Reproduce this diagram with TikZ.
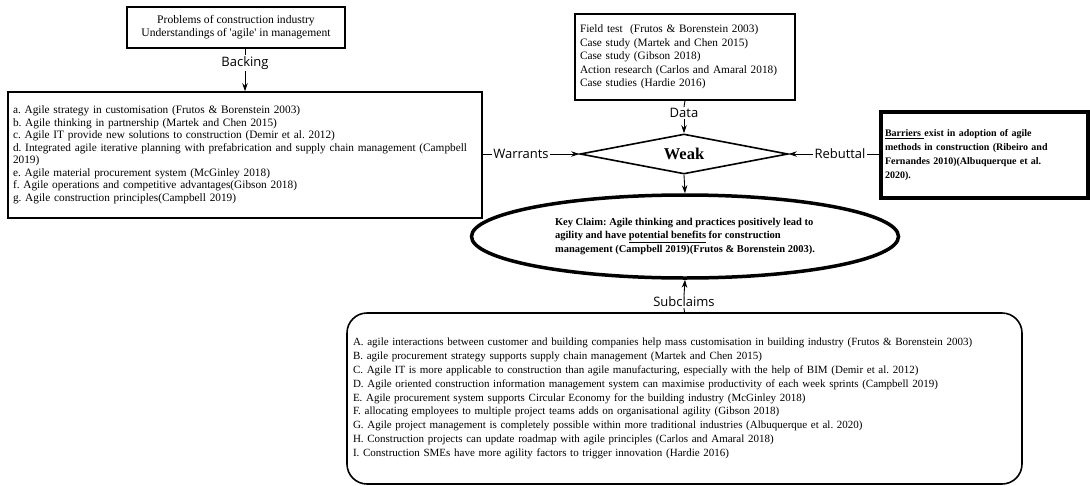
\documentclass[tikz,border=0pt]{standalone}
\usepackage{fontspec}
\setmainfont{Liberation Serif}
\newfontfamily\labelfont{Open Sans}
\usetikzlibrary{shapes.geometric,arrows.meta}
\frenchspacing

\begin{document}
\begin{tikzpicture}[x=1pt,y=-1pt,
    textbox/.style={rectangle,draw,line width=1.6pt,inner sep=5pt,align=left,font=\fontsize{11.3}{12.5}\selectfont},
    lbl/.style={inner sep=1pt,font=\labelfont\fontsize{13}{15}\selectfont},
    arr/.style={-{Stealth[length=8pt,width=5.5pt]},line width=0.9pt},
    tick/.style={line width=0.9pt}]
    \useasboundingbox (0,0) rectangle (1090,485);
%
    \node (problems) at (236,27.5) [textbox,align=center,minimum width=218,minimum height=41,font=\fontsize{11.6}{13}\selectfont] {Problems of construction industry\\Understandings of \textquotesingle agile\textquotesingle\ in management};
    \node (backs) at (245,155) [textbox,minimum width=474,minimum height=126,text width=464] {a. Agile strategy in customisation (Frutos \& Borenstein 2003)\\b. Agile thinking in partnership (Martek and Chen 2015)\\c. Agile IT provide new solutions to construction (Demir et al. 2012)\\d. Integrated agile iterative planning with prefabrication and supply chain management (Campbell\\2019)\\e. Agile material procurement system (McGinley 2018)\\f. Agile operations and competitive advantages(Gibson 2018)\\g. Agile construction principles(Campbell 2019)};
    \node (data) at (685,57) [textbox,line width=1.3pt,minimum width=220,minimum height=86,text width=210,font=\fontsize{11.3}{13.5}\selectfont] {Field test\ \ (Frutos \& Borenstein 2003)\\Case study (Martek and Chen 2015)\\Case study (Gibson 2018)\\Action research (Carlos and Amaral 2018)\\Case studies (Hardie 2016)};
    \node (rebut) at (984.5,155) [textbox,line width=3.5pt,minimum width=207,minimum height=86,text width=199,inner sep=2pt,font=\bfseries\fontsize{10}{13.7}\selectfont] {\underline{Barriers\ }exist in adoption of agile\\methods in construction (Ribeiro and\\Fernandes 2010)(Albuquerque et al.\\2020).};
    \node (weak) at (684,154) [diamond,draw,line width=1.6pt,aspect=5,inner sep=0pt,minimum width=208,minimum height=40,font=\bfseries\fontsize{16.5}{18}\selectfont] {Weak};
    \node (claim) at (685,236.5) [ellipse,draw,line width=3.5pt,minimum width=427,minimum height=83,align=left,inner sep=0pt,font=\bfseries\fontsize{10.5}{13.5}\selectfont] {Key Claim: Agile thinking and practices positively lead to\\agility and have \underline{potential benefits} for construction\\management (Campbell 2019)(Frutos \& Borenstein 2003).};
    \node (subs) at (684.5,398.5) [textbox,rounded corners=20pt,minimum width=675,minimum height=171,text width=663,inner sep=6pt,font=\fontsize{11}{13.8}\selectfont] {A. agile interactions between customer and building companies help mass customisation in building industry (Frutos \& Borenstein 2003)\\B. agile procurement strategy supports supply chain management (Martek and Chen 2015)\\C. Agile IT is more applicable to construction than agile manufacturing, especially with the help of BIM (Demir et al. 2012)\\D. Agile oriented construction information management system can maximise productivity of each week sprints (Campbell 2019)\\E. Agile procurement system supports Circular Economy for the building industry (McGinley 2018)\\F. allocating employees to multiple project teams adds on organisational agility (Gibson 2018)\\G. Agile project management is completely possible within more traditional industries (Albuquerque et al. 2020)\\H. Construction projects can update roadmap with agile principles (Carlos and Amaral 2018)\\I. Construction SMEs have more agility factors to trigger innovation (Hardie 2016)};
%
    \node (backing) at (245,63) [lbl] {Backing};
    \node (datalbl) at (684,113) [lbl] {Data};
    \node (warrants) at (521,154) [lbl] {Warrants};
    \node (rebuttal) at (840,154) [lbl] {Rebuttal};
    \node (subclaims) at (684,302) [lbl] {Subclaims};
%
    \draw [tick] (problems.south -| backing) -- (backing.north);
    \draw [arr] (backing.south) -- (backs.north -| backing);
    \draw [tick] (data.south) -- (datalbl.north);
    \draw [arr] (datalbl.south) -- (weak.north);
    \draw [tick] (backs.east |- warrants) -- (warrants.west);
    \draw [arr] (warrants.east) -- (weak.west);
    \draw [tick] (rebut.west |- rebuttal) -- (rebuttal.east);
    \draw [arr] (rebuttal.west) -- (weak.east);
    \draw [arr] (weak.south) -- (claim.north);
    \draw [tick] (subs.north) -- (subclaims.south);
    \draw [arr] (subclaims.north) -- (claim.south);
\end{tikzpicture}
\end{document}
